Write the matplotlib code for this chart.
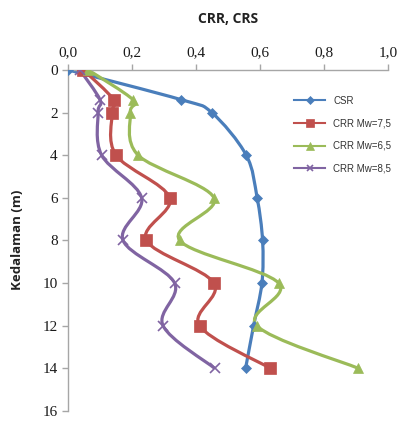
import matplotlib
matplotlib.use("Agg")
import matplotlib.pyplot as plt
import numpy as np
from matplotlib.path import Path
from matplotlib.patches import PathPatch
from matplotlib.ticker import FuncFormatter

depth = [0, 1.4, 2, 4, 6, 8, 10, 12, 14]
csr = [0.0, 0.354, 0.449, 0.557, 0.591, 0.608, 0.606, 0.580, 0.555]
crr_75 = [0.048, 0.143, 0.138, 0.150, 0.318, 0.245, 0.456, 0.411, 0.632]
crr_65 = [0.063, 0.203, 0.195, 0.219, 0.456, 0.349, 0.658, 0.590, 0.907]
crr_85 = [0.037, 0.100, 0.094, 0.105, 0.230, 0.172, 0.333, 0.297, 0.458]

series = [
    ("CSR", csr, "#4A7EBB", "D", 5.5),
    ("CRR Mw=7,5", crr_75, "#C0504D", "s", 8),
    ("CRR Mw=6,5", crr_65, "#9BBB59", "^", 7.5),
    ("CRR Mw=8,5", crr_85, "#8064A2", "x", 7),
]


def smooth_path(x, y):
    # Excel-style smoothed line: cubic Bezier segments with Catmull-Rom tangents
    pts = np.column_stack([x, y])
    n = len(pts)
    verts = [pts[0]]
    codes = [Path.MOVETO]
    for i in range(n - 1):
        p0 = pts[max(i - 1, 0)]
        p1 = pts[i]
        p2 = pts[i + 1]
        p3 = pts[min(i + 2, n - 1)]
        c1 = p1 + (p2 - p0) / 6.0
        c2 = p2 - (p3 - p1) / 6.0
        verts += [c1, c2, p2]
        codes += [Path.CURVE4] * 3
    return Path(verts, codes)


fig = plt.figure(figsize=(4.0, 4.21), dpi=100)
ax = fig.add_axes([0.17, 0.024, 0.80, 0.81])

for label, vals, color, marker, ms in series:
    ax.add_patch(PathPatch(smooth_path(vals, depth), facecolor="none",
                           edgecolor=color, lw=2.3, zorder=2))
    mew = 1.2 if marker == "x" else 0.5
    ax.plot(vals, depth, linestyle="none", marker=marker, ms=ms, color=color,
            mew=mew, zorder=3)
    # legend proxy
    ax.plot([], [], color=color, lw=1.5, marker=marker, ms=ms * 0.7,
            mew=mew, label=label)

ax.set_xlim(0, 1.0)
ax.set_ylim(16, 0)
ax.set_xticks(np.arange(0, 1.01, 0.2))
ax.set_yticks(np.arange(0, 17, 2))
ax.xaxis.set_major_formatter(FuncFormatter(lambda v, p: f"{v:.1f}".replace(".", ",")))
ax.xaxis.tick_top()

for s in ["right", "bottom"]:
    ax.spines[s].set_visible(False)
for s in ["left", "top"]:
    ax.spines[s].set_color("#A6A6A6")
    ax.spines[s].set_linewidth(1.0)
ax.tick_params(axis="both", colors="#A6A6A6", length=4, width=1.0,
               labelcolor="#1a1a1a", labelsize=11, direction="out")
for t in ax.get_xticklabels() + ax.get_yticklabels():
    t.set_fontfamily("Liberation Serif")

fig.text(0.57, 0.955, "CRR, CRS", ha="center", va="center",
         fontsize=10, fontweight="bold", family="Open Sans", color="#222222")
fig.text(0.045, 0.43, "Kedalaman (m)", ha="center", va="center", rotation=90,
         fontsize=9.5, fontweight="bold", family="Open Sans", color="#222222")

leg = ax.legend(loc="upper left", bbox_to_anchor=(0.68, 0.95), frameon=False,
                handlelength=3.2, labelspacing=1.3,
                prop={"family": "Liberation Sans", "size": 7})
for t in leg.get_texts():
    t.set_color("#333333")

fig.savefig("out.png", dpi=100)
